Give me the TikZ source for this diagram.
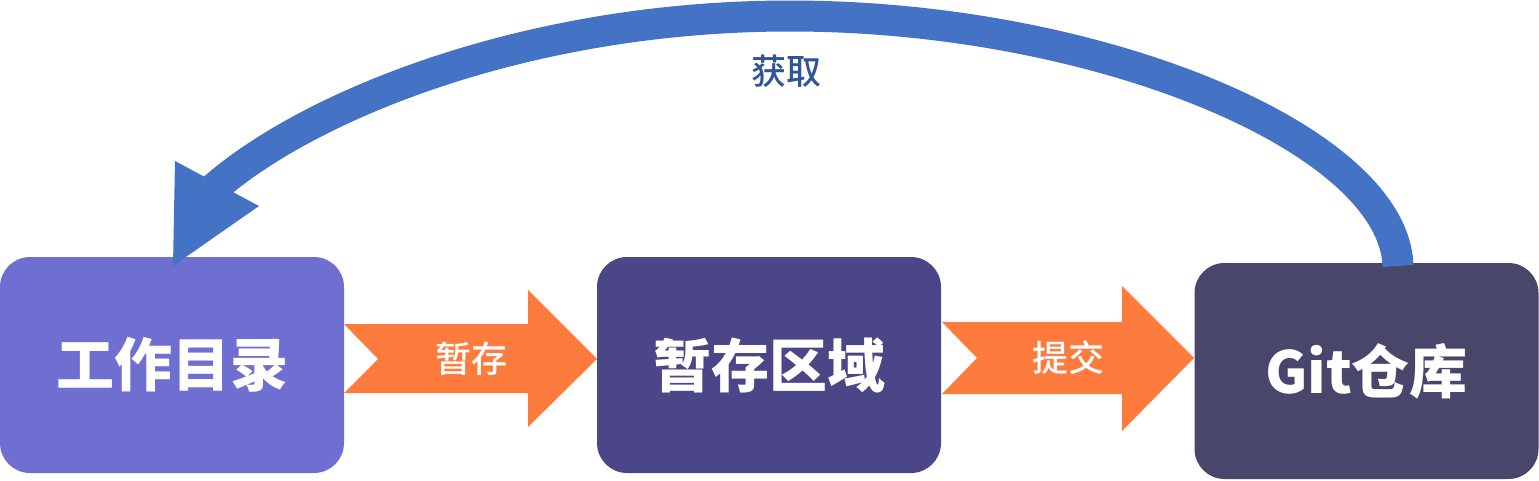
\documentclass[tikz,border=0pt]{standalone}
\usepackage{fontspec}
\setmainfont{Noto Sans CJK SC}
\newfontfamily\cjkmed{Noto Sans CJK SC Medium}
\usetikzlibrary{calc}
\definecolor{boxA}{HTML}{6F6FD2}
\definecolor{boxB}{HTML}{4A4688}
\definecolor{boxC}{HTML}{48466A}
\definecolor{orangeA}{HTML}{FE7B3E}
\definecolor{blueA}{HTML}{4472C4}
\definecolor{labelblue}{HTML}{2F5597}
\tikzset{
  stagebox/.style={rounded corners=30pt, minimum width=344pt, minimum height=216pt, inner sep=0pt,
    text=white, font=\fontsize{58}{60}\selectfont\bfseries},
  flowarrow/.style={fill=orangeA, draw=none},
  flowlabel/.style={inner sep=0pt, text=white, font=\fontsize{36}{40}\selectfont\cjkmed},
  backline/.style={draw=blueA, line width=31pt},
  backhead/.style={fill=blueA, draw=none},
  backlabel/.style={inner sep=0pt, text=labelblue, font=\fontsize{35}{40}\selectfont\cjkmed}
}
\begin{document}
\begin{tikzpicture}[x=1pt,y=-1pt]
\useasboundingbox (0,0) rectangle (1539,480);
% stage boxes
\node[stagebox, fill=boxA] (wd) at (172,365) {工作目录};
\node[stagebox, fill=boxB] (st) at (769,365) {暂存区域};
\node[stagebox, fill=boxC] (repo) at (1366.5,371) {Git仓库};
% orange arrows
\fill[flowarrow] (344,324) -- (528,324) -- (528,290) -- (597,359) -- (528,427) -- (528,393) -- (344,393) -- (378,359) -- cycle;
\node[flowlabel] (l1) at (471,359) {暂存};
\fill[flowarrow] (942,322) -- (1122,322) -- (1122,286) -- (1194,358) -- (1122,431) -- (1122,394) -- (942,394) -- (977,358) -- cycle;
\node[flowlabel] (l2) at (1068,358) {提交};
% blue back arrow
\coordinate (fs) at (1398,266);
\coordinate (fm) at (790,16);
\coordinate (fe) at (210,192);
\draw[backline] (fs) .. controls (1394,140) and (1100,16) .. (fm)
                     .. controls (520,16) and (300,110) .. (fe);
\fill[backhead] (175,161) -- (259,206) -- (173,266) -- cycle;
\node[backlabel] (l3) at (786,71) {获取};
\end{tikzpicture}
\end{document}
